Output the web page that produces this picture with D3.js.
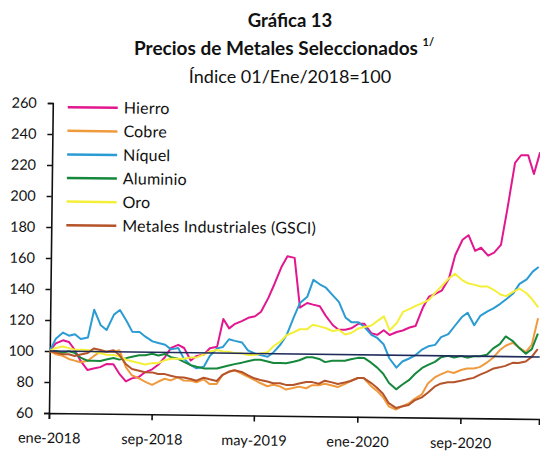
<!DOCTYPE html>
<html>
<head>
<meta charset="utf-8">
<script src="https://cdn.jsdelivr.net/npm/d3@7"></script>
<style>
    body { margin: 0; background: #fff; overflow: hidden; }
    svg { display: block; font-family: Lato, "Open Sans", sans-serif; }
</style>
</head>
<body>
<div id="chart"></div>
<script>
const seriesNames  = ["Hierro", "Cobre", "Níquel", "Aluminio", "Oro", "Metales Industriales (GSCI)"];
const seriesColors = ["#e2178f", "#f09a3e", "#2b9bd3", "#16883c", "#f4ef3a", "#b5532a"];

// fechas quincenales: 1 y 15 de cada mes, ene-2018 a mar-2021
const dates = [];
for (let i = 0; i < 77; i++) {
    dates.push(new Date(2018, Math.floor(i / 2), i % 2 === 0 ? 1 : 15));
}

const hierro = [100,105,107,106,101,94,88,89,90,92,
    92,86,81,83,84,87,89,92,97,103,
    105,103,95,98,99,103,104,122,116,119,
    121,123,124,127,136,145,156,163,162,130,
    133,132,131,125,119,116,116,117,120,120,
    114,113,116,113,115,116,118,119,131,138,
    140,142,150,165,175,178,168,170,165,167,
    172,195,225,230,230,218,232];

const cobre = [100,98,97,95,94,93,94,97,100,100,
    100,101,90,85,83,81,79,81,83,82,
    84,82,82,81,83,80,80,86,88,89,
    87,85,83,81,79,80,79,77,78,79,
    78,80,80,81,80,79,81,83,85,85,
    80,77,73,67,65,67,69,72,75,82,
    86,88,90,89,91,92,92,93,96,99,
    104,107,109,106,103,108,125];

const niquel = [100,108,112,110,111,108,109,127,117,114,
    124,127,120,113,113,110,107,106,105,102,
    103,96,92,90,91,98,103,104,109,108,
    107,102,100,99,98,101,106,112,124,133,
    137,148,145,143,138,134,124,121,121,118,
    113,111,107,98,92,96,98,100,104,106,
    107,112,114,119,125,128,120,126,129,131,
    134,137,141,147,150,155,158];

const aluminio = [100,100,99,100,99,96,94,94,94,95,
    96,95,96,97,98,98,99,98,99,97,
    96,94,92,91,90,90,90,91,92,93,
    94,95,96,96,95,94,94,94,95,96,
    98,98,97,95,96,96,96,97,98,98,
    95,92,88,82,78,81,84,88,92,94,
    96,99,100,99,100,99,100,100,101,105,
    108,113,110,106,102,105,115];

const oro = [100,102,103,102,101,101,101,100,99,98,
    98,97,95,94,93,92,93,93,95,96,
    96,96,97,97,99,101,102,101,101,100,
    100,99,99,100,101,105,108,112,114,116,
    116,119,118,117,115,116,113,114,117,118,
    119,122,125,116,121,128,130,132,134,136,
    141,145,150,153,149,147,146,145,145,143,
    140,139,142,144,141,137,132];

const metalesGSCI = [100,99,98,98,97,98,99,102,101,100,
    101,98,92,89,88,87,87,86,86,85,
    84,84,83,82,84,83,82,86,88,89,
    88,86,84,83,82,81,81,80,80,81,
    82,82,81,83,82,81,82,83,85,85,
    82,79,75,69,66,67,68,71,73,76,
    80,82,83,83,84,85,86,88,90,92,
    93,94,96,96,97,100,105];

const allSeries = [hierro, cobre, niquel, aluminio, oro, metalesGSCI];

const baseIndex = 100;
const yTicks = [60, 80, 100, 120, 140, 160, 180, 200, 220, 240, 260];
const xTickDates  = [new Date(2018, 0, 1), new Date(2018, 8, 1), new Date(2019, 4, 1), new Date(2020, 0, 1), new Date(2020, 8, 1)];
const xTickLabels = ["ene-2018", "sep-2018", "may-2019", "ene-2020", "sep-2020"];

const width = 540;
const height = 453;
const margin = { top: 103, left: 49 };
const innerWidth = 490;
const innerHeight = 310;

const svg = d3.select("#chart")
    .append("svg")
    .attr("width", width)
    .attr("height", height);

// titulos
svg.append("text")
    .text("Gráfica 13")
    .attr("x", 290)
    .attr("y", 27)
    .attr("text-anchor", "middle")
    .attr("fill", "#111")
    .style("font-weight", "bold")
    .style("font-size", "18.5px");

const subtitle = svg.append("text")
    .attr("x", 134)
    .attr("y", 55)
    .attr("fill", "#111")
    .style("font-weight", "bold")
    .style("font-size", "19px");
subtitle.append("tspan").text("Precios de Metales Seleccionados ");
subtitle.append("tspan")
    .text("1/")
    .attr("dy", -9)
    .style("font-size", "11px");

svg.append("text")
    .text("Índice 01/Ene/2018=100")
    .attr("x", 290)
    .attr("y", 83)
    .attr("text-anchor", "middle")
    .attr("fill", "#111")
    .style("font-size", "18px");

// el grafico original esta ligeramente girado (escaneo)
const innerChart = svg.append("g")
    .attr("transform", `rotate(0.7, ${margin.left}, ${margin.top + innerHeight}) translate(${margin.left}, ${margin.top})`);

const xScale = d3.scaleTime()
    .domain([new Date(2018, 0, 1), new Date(2021, 2, 6)])
    .range([0, innerWidth]);

const yScale = d3.scaleLinear()
    .domain([60, 260])
    .range([innerHeight, 0]);

const bottomAxis = d3.axisBottom(xScale)
    .tickValues(xTickDates)
    .tickFormat((d, i) => xTickLabels[i])
    .tickSizeOuter(0)
    .tickSize(6);

innerChart.append("g")
    .attr("class", "axis-x")
    .attr("transform", `translate(0, ${innerHeight})`)
    .call(bottomAxis);

const leftAxis = d3.axisLeft(yScale)
    .tickValues(yTicks)
    .tickSizeOuter(0)
    .tickSize(5)
    .tickPadding(11);

innerChart.append("g")
    .attr("class", "axis-y")
    .call(leftAxis);

innerChart.selectAll(".axis-x text")
    .attr("y", 30)
    .attr("dy", null);

innerChart.selectAll(".axis-x text, .axis-y text")
    .attr("fill", "#111")
    .style("font-family", "Lato, sans-serif")
    .style("font-size", "14.5px");

innerChart.selectAll(".axis-x path, .axis-y path, .axis-x line, .axis-y line")
    .attr("stroke", "#111")
    .attr("stroke-width", 1.6);

// series
const lineGenerator = d3.line()
    .x((d, i) => xScale(dates[i]))
    .y(d => yScale(d));

innerChart.selectAll(".serie")
    .data(allSeries)
    .join("path")
        .attr("class", "serie")
        .attr("d", d => lineGenerator(d))
        .attr("fill", "none")
        .attr("stroke", (d, i) => seriesColors[i])
        .attr("stroke-width", 2)
        .attr("stroke-linejoin", "round");

// linea base = 100
innerChart.append("line")
    .attr("x1", 0)
    .attr("x2", innerWidth)
    .attr("y1", yScale(baseIndex))
    .attr("y2", yScale(baseIndex))
    .attr("stroke", "#1f2b5b")
    .attr("stroke-width", 1.6);

// leyenda
const legend = innerChart.append("g")
    .attr("transform", `translate(${64 - margin.left}, ${107 - margin.top})`);

const legendRows = legend.selectAll("g")
    .data(seriesNames)
    .join("g")
        .attr("transform", (d, i) => `translate(0, ${i * 23.6})`);

legendRows.append("line")
    .attr("x1", 0)
    .attr("x2", 50)
    .attr("stroke", (d, i) => seriesColors[i])
    .attr("stroke-width", 2.5);

legendRows.append("text")
    .text(d => d)
    .attr("x", 56)
    .attr("dy", "0.35em")
    .attr("fill", "#111")
    .style("font-size", "16px")
    .style("letter-spacing", "0.2px");
</script>
</body>
</html>
